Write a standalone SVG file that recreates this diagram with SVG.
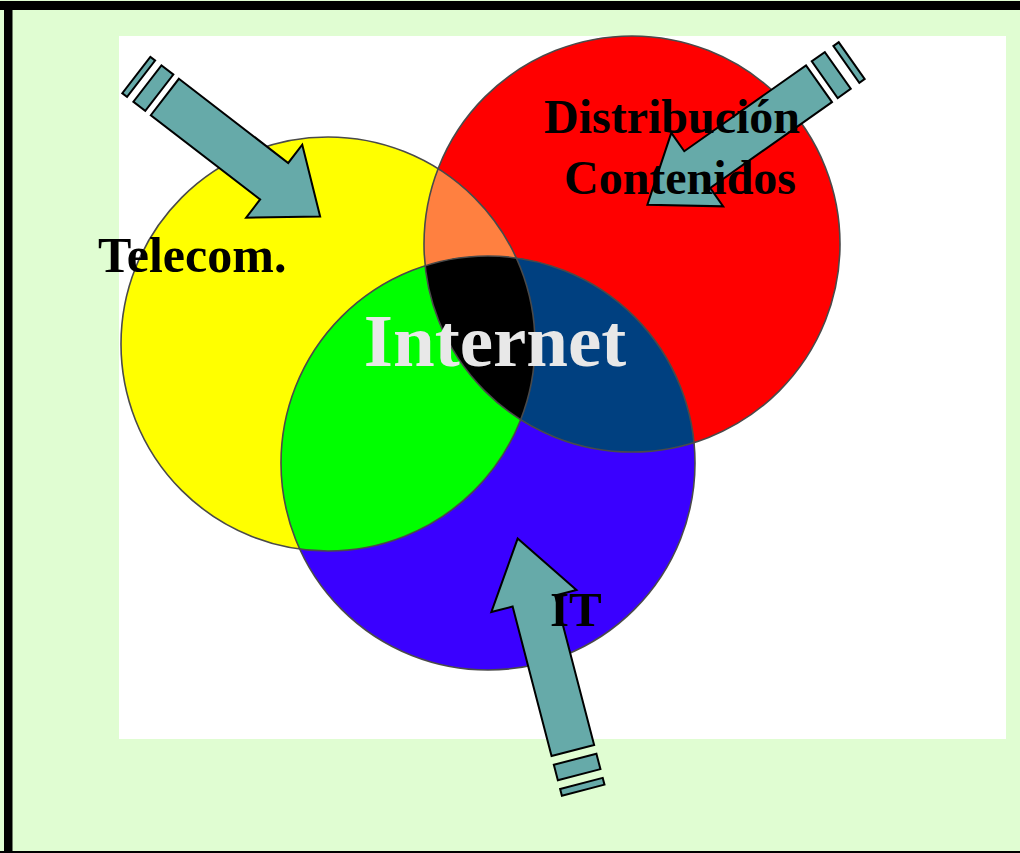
<svg xmlns="http://www.w3.org/2000/svg" width="1020" height="853" viewBox="0 0 1020 853">
<style>
.ring{fill:none;stroke:#4a4a4a;stroke-width:1.6}
.arr{fill:#66AAA9;stroke:#000;stroke-width:2;stroke-linejoin:miter}
.lbl{font-family:"Liberation Serif","Times New Roman",serif;font-weight:bold;fill:#000}
</style>
<defs>
<clipPath id="cY"><circle cx="328" cy="344" r="207"/></clipPath>
<clipPath id="cR"><circle cx="632" cy="244" r="208"/></clipPath>
</defs>
<rect x="0" y="0" width="1020" height="853" fill="#E0FDD2"/>
<rect x="0" y="1" width="1020" height="9" fill="#000"/>
<rect x="4" y="1" width="8.5" height="852" fill="#000"/>
<rect x="0" y="851" width="1020" height="2" fill="#000"/>
<rect x="119" y="36" width="887" height="703" fill="#FFFFFF"/>
<g id="telecom"><circle cx="328" cy="344" r="207" fill="#FFFF00"/></g>
<g id="distribucion"><circle cx="632" cy="244" r="208" fill="#FF0000"/></g>
<g id="it"><circle cx="488" cy="463" r="207" fill="#3A00FF"/></g>
<g id="overlaps">
<g clip-path="url(#cY)"><circle cx="632" cy="244" r="208" fill="#FF8040"/><circle cx="488" cy="463" r="207" fill="#00FF00"/></g>
<g clip-path="url(#cR)"><circle cx="488" cy="463" r="207" fill="#004080"/></g>
<g clip-path="url(#cY)"><g clip-path="url(#cR)"><circle cx="488" cy="463" r="207" fill="#000000"/></g></g>
</g>
<g id="outlines">
<circle class="ring" cx="328" cy="344" r="207"/>
<circle class="ring" cx="632" cy="244" r="208"/>
<circle class="ring" cx="488" cy="463" r="207"/>
</g>
<g id="connectors">
<g transform="translate(164.85,97) rotate(37.6)">
<path class="arr" d="M0,-23 L138,-23 L138,-46 L196,0 L138,46 L138,23 L0,23 Z"/>
<rect class="arr" x="-22" y="-23" width="15" height="46"/>
<rect class="arr" x="-36" y="-23" width="6" height="46"/>
</g>
<g transform="translate(819,83.7) rotate(144.8)">
<path class="arr" d="M0,-22.5 L149,-22.5 L149,-45 L210,0 L149,45 L149,22.5 L0,22.5 Z"/>
<rect class="arr" x="-23" y="-22.5" width="16" height="45"/>
<rect class="arr" x="-40" y="-22.5" width="6.5" height="45"/>
</g>
<g transform="translate(572.85,750.5) rotate(-104.6)">
<path class="arr" d="M0,-22 L154.5,-22 L154.5,-44 L219,0 L154.5,44 L154.5,22 L0,22 Z"/>
<rect class="arr" x="-25" y="-22" width="16" height="44"/>
<rect class="arr" x="-41" y="-22" width="7" height="44"/>
</g>
</g>
<g id="labels">
<text class="lbl" x="98" y="272" font-size="50">Telecom.</text>
<text class="lbl" x="672" y="133" font-size="48" text-anchor="middle">Distribución</text>
<text class="lbl" x="680" y="194" font-size="48" text-anchor="middle">Contenidos</text>
<text class="lbl" x="495" y="366" font-size="75" text-anchor="middle" style="fill:#E8E8E8">Internet</text>
<text class="lbl" x="550" y="626" font-size="49">IT</text>
</g>
</svg>
